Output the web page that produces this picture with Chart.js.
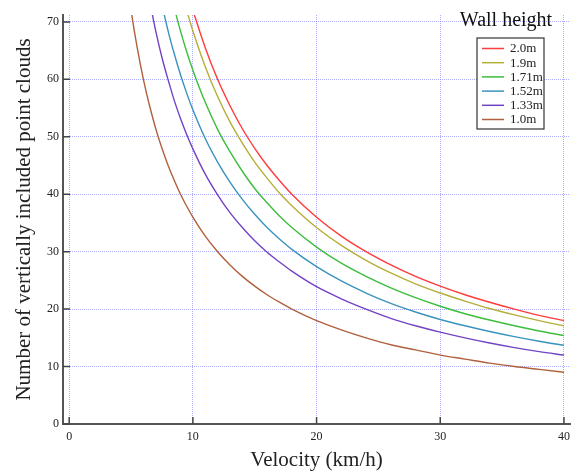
<!DOCTYPE html>
<html lang="en">
<head>
    <meta charset="UTF-8">
    <title>Wall height</title>
    <script src="https://cdn.jsdelivr.net/npm/chart.js"></script>
    <style>
        html, body { margin: 0; padding: 0; background: #fff; }
        #wrap { width: 576px; height: 473px; }
    </style>
</head>
<body>
    <div id="wrap"><canvas id="wallChart" width="576" height="473"></canvas></div>

    <script>
        // velocity (km/h), shared by every series
        const velocity = [4.8, 5, 5.5, 6, 6.5, 7, 7.5, 8, 8.5, 9, 9.5, 10, 11, 12, 13, 14, 15, 16, 17, 18, 20, 22, 24, 26, 28, 30, 32, 34, 36, 38, 40];

        const h20  = [null, null, null, null, null, null, null, null, null, null, null, 72.0, 65.5, 60.0, 55.4, 51.4, 48.0, 45.0, 42.4, 40.0, 36.0, 32.7, 30.0, 27.7, 25.7, 24.0, 22.5, 21.2, 20.0, 18.9, 18.0];
        const h19  = [null, null, null, null, null, null, null, null, null, null, 72.0, 68.4, 62.2, 57.0, 52.6, 48.9, 45.6, 42.8, 40.2, 38.0, 34.2, 31.1, 28.5, 26.3, 24.4, 22.8, 21.4, 20.1, 19.0, 18.0, 17.1];
        const h171 = [null, null, null, null, null, null, null, null, 72.4, 68.4, 64.8, 61.6, 56.0, 51.3, 47.4, 44.0, 41.0, 38.5, 36.2, 34.2, 30.8, 28.0, 25.7, 23.7, 22.0, 20.5, 19.2, 18.1, 17.1, 16.2, 15.4];
        const h152 = [null, null, null, null, null, null, 73.0, 68.4, 64.4, 60.8, 57.6, 54.7, 49.7, 45.6, 42.1, 39.1, 36.5, 34.2, 32.2, 30.4, 27.4, 24.9, 22.8, 21.0, 19.5, 18.2, 17.1, 16.1, 15.2, 14.4, 13.7];
        const h133 = [null, null, null, null, 73.7, 68.4, 63.8, 59.9, 56.3, 53.2, 50.4, 47.9, 43.5, 39.9, 36.8, 34.2, 31.9, 29.9, 28.2, 26.6, 23.9, 21.8, 20.0, 18.4, 17.1, 16.0, 15.0, 14.1, 13.3, 12.6, 12.0];
        const h10  = [75.0, 72.0, 65.5, 60.0, 55.4, 51.4, 48.0, 45.0, 42.4, 40.0, 37.9, 36.0, 32.7, 30.0, 27.7, 25.7, 24.0, 22.5, 21.2, 20.0, 18.0, 16.4, 15.0, 13.8, 12.9, 12.0, 11.3, 10.6, 10.0, 9.5, 9.0];

        const seriesLabels = ['2.0m', '1.9m', '1.71m', '1.52m', '1.33m', '1.0m'];
        const seriesValues = [h20, h19, h171, h152, h133, h10];
        const seriesColors = ['#ff3b3b', '#b5ae38', '#3dbd3d', '#3a93bd', '#7343c4', '#b0603c'];

        const xTicks = [0, 10, 20, 30, 40];
        const yTicks = [0, 10, 20, 30, 40, 50, 60, 70];

        const serif = '"Liberation Serif", "DejaVu Serif", serif';

        const datasets = seriesLabels.map((label, i) => ({
            label: label,
            data: velocity.map((v, j) => ({ x: v, y: seriesValues[i][j] })).filter(p => p.y !== null),
            borderColor: seriesColors[i],
            backgroundColor: seriesColors[i],
            borderWidth: 1.4,
            pointRadius: 0,
            cubicInterpolationMode: 'monotone',
            fill: false
        }));

        // inward tick marks, legend box and its title
        const decorations = {
            id: 'decorations',
            afterDatasetsDraw(chart) {
                const ctx = chart.ctx;
                const area = chart.chartArea;
                const xs = chart.scales.x, ys = chart.scales.y;
                ctx.save();
                ctx.strokeStyle = '#444';
                ctx.lineWidth = 1.5;
                ctx.beginPath();
                xTicks.forEach(v => {
                    const px = xs.getPixelForValue(v);
                    ctx.moveTo(px, area.bottom);
                    ctx.lineTo(px, area.bottom - 7);
                });
                yTicks.forEach(v => {
                    const py = ys.getPixelForValue(v);
                    ctx.moveTo(area.left, py);
                    ctx.lineTo(area.left + 7, py);
                });
                ctx.stroke();

                // title
                ctx.fillStyle = '#111';
                ctx.font = '20px ' + serif;
                ctx.textAlign = 'center';
                ctx.textBaseline = 'middle';
                ctx.fillText('Wall height', 506, 21);

                // legend box
                const bx = 477, by = 38, bw = 67, bh = 91;
                ctx.fillStyle = '#fff';
                ctx.fillRect(bx, by, bw, bh);
                ctx.strokeStyle = '#333';
                ctx.lineWidth = 1.2;
                ctx.strokeRect(bx, by, bw, bh);
                ctx.font = '13px ' + serif;
                ctx.textAlign = 'left';
                chart.data.datasets.forEach((ds, i) => {
                    const y = by + 10.5 + i * 14.2;
                    ctx.strokeStyle = ds.borderColor;
                    ctx.lineWidth = 1.5;
                    ctx.beginPath();
                    ctx.moveTo(bx + 5, y);
                    ctx.lineTo(bx + 27, y);
                    ctx.stroke();
                    ctx.fillStyle = '#222';
                    ctx.fillText(ds.label, bx + 33, y + 0.5);
                });
                ctx.restore();
            }
        };

        new Chart(document.getElementById('wallChart').getContext('2d'), {
            type: 'line',
            data: { datasets: datasets },
            options: {
                responsive: false,
                animation: false,
                layout: { padding: { top: 15, right: 5, left: 0, bottom: 0 } },
                plugins: {
                    legend: { display: false },
                    tooltip: { enabled: false }
                },
                scales: {
                    x: {
                        type: 'linear',
                        min: -0.5,
                        max: 40.5,
                        afterBuildTicks: s => { s.ticks = xTicks.map(v => ({ value: v })); },
                        afterFit: s => { s.height = 49; },
                        grid: { color: 'rgba(110,110,255,0.55)', drawTicks: false, lineWidth: 1 },
                        border: { display: true, color: '#555', width: 2, dash: [1, 1] },
                        ticks: { color: '#222', font: { family: serif, size: 12 }, padding: 6, maxRotation: 0 },
                        title: { display: true, text: 'Velocity (km/h)', color: '#222', font: { family: serif, size: 21 }, padding: { top: 0, bottom: 0 } }
                    },
                    y: {
                        min: 0,
                        max: 71.2,
                        afterBuildTicks: s => { s.ticks = yTicks.map(v => ({ value: v })); },
                        afterFit: s => { s.width = 63; },
                        grid: { color: 'rgba(110,110,255,0.55)', drawTicks: false, lineWidth: 1 },
                        border: { display: true, color: '#555', width: 2, dash: [1, 1] },
                        ticks: { color: '#222', font: { family: serif, size: 12 }, padding: 4 },
                        title: { display: true, text: 'Number of vertically included point clouds', color: '#222', font: { family: serif, size: 21 }, padding: { top: 12, bottom: 0 } }
                    }
                }
            },
            plugins: [decorations]
        });
    </script>
</body>
</html>
